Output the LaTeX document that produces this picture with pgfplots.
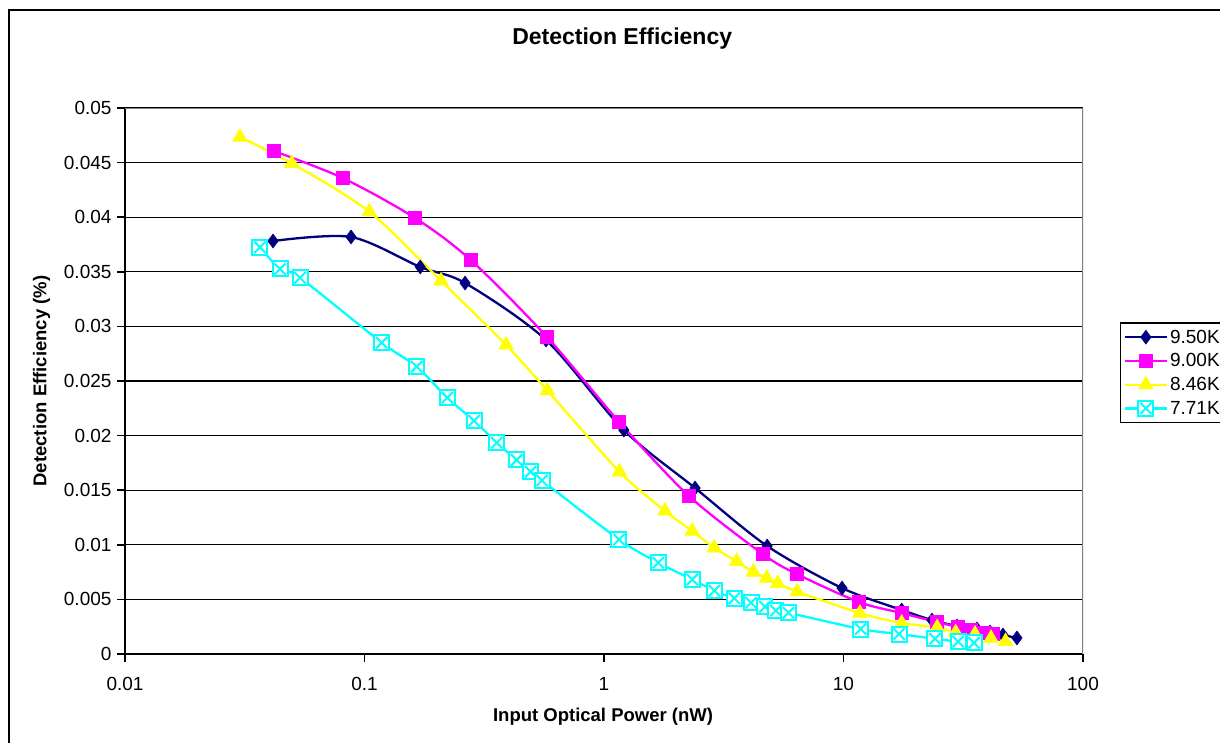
\documentclass[border=0pt]{standalone}
\usepackage{fontspec}
\setmainfont{Liberation Sans}
\usepackage{pgfplots}
\pgfplotsset{compat=1.18}
\definecolor{navy}{RGB}{0,0,128}
\definecolor{mag}{RGB}{255,0,255}
\definecolor{yel}{RGB}{255,255,0}
\definecolor{cyn}{RGB}{0,255,255}
\definecolor{bordergray}{RGB}{128,128,128}
\pgfdeclareplotmark{boxx}{%
  \pgfpathrectangle{\pgfqpoint{-\pgfplotmarksize}{-\pgfplotmarksize}}{\pgfqpoint{2\pgfplotmarksize}{2\pgfplotmarksize}}%
  \pgfusepathqfillstroke
  \pgfpathmoveto{\pgfqpoint{-0.75\pgfplotmarksize}{-0.75\pgfplotmarksize}}%
  \pgfpathlineto{\pgfqpoint{0.75\pgfplotmarksize}{0.75\pgfplotmarksize}}%
  \pgfpathmoveto{\pgfqpoint{-0.75\pgfplotmarksize}{0.75\pgfplotmarksize}}%
  \pgfpathlineto{\pgfqpoint{0.75\pgfplotmarksize}{-0.75\pgfplotmarksize}}%
  \pgfusepathqstroke}
\begin{document}
\begin{tikzpicture}
\useasboundingbox (0pt,0pt) rectangle (1220pt,-742pt);
\draw[black, line width=2pt] (9pt,-10pt) rectangle (1240pt,-760pt);
\begin{axis}[
  at={(125pt,-654pt)}, anchor=south west,
  scale only axis, width=958pt, height=546pt,
  xmode=log, log basis x=10, xmin=0.01, xmax=100, ymin=0, ymax=0.05,
  xtick={0.01,0.1,1,10,100}, xticklabels={0.01,0.1,1,10,100},
  xminorticks=false,
  ytick={0,0.005,0.01,0.015,0.02,0.025,0.03,0.035,0.04,0.045,0.05},
  yticklabels={0,0.005,0.01,0.015,0.02,0.025,0.03,0.035,0.04,0.045,0.05},
  scaled y ticks=false,
  axis x line*=bottom, axis y line*=left,
  axis line style={black, line width=2pt, -},
  tick align=outside, major tick length=8pt,
  tick style={black, line width=1.5pt},
  ymajorgrids, major grid style={black, line width=1.3pt},
  ticklabel style={font=\fontsize{19}{22}\selectfont},
  xticklabel style={yshift=-12pt},
  yticklabel style={xshift=-2pt},
  title={Detection Efficiency},
  title style={at={(axis description cs:0.519,1.1154)}, anchor=center, font=\bfseries\fontsize{23}{26}\selectfont},
  xlabel={Input Optical Power (nW)},
  xlabel style={at={(axis description cs:0.499,-0.1154)}, anchor=center, font=\bfseries\fontsize{18.5}{22}\selectfont},
  ylabel={Detection Efficiency (\%)},
  ylabel style={at={(axis description cs:-0.087,0.5)}, anchor=center, font=\bfseries\fontsize{18.5}{22}\selectfont},
  legend style={at={(axis description cs:1.0386,0.608)}, anchor=north west, draw=black, line width=1.5pt,
     font=\fontsize{19}{22}\selectfont, inner xsep=3pt, inner ysep=5pt, row sep=5pt,
     nodes={inner sep=2pt}},
  legend cell align=left,
  legend image code/.code={\draw[mark repeat=2,mark phase=2] plot coordinates {(0pt,0pt) (21pt,0pt) (42pt,0pt)};},
]
\addplot[navy, line width=2.3pt, smooth, tension=0.5, mark=diamond*, mark size=7pt, mark options={solid, fill=navy, draw=navy, line width=0.5pt}] coordinates {
(0.0415,0.03782) (0.0879,0.03819) (0.171,0.03544) (0.263,0.03397) (0.573,0.02875) (1.21,0.02051) (2.40,0.01520) (4.80,0.00989) (9.86,0.00604) (17.5,0.00403) (23.4,0.00311) (29.8,0.00256) (36.1,0.00229) (40.9,0.00201) (46.3,0.00174) (53.0,0.00147)};
\addlegendentry{9.50K}
\addplot[mag, line width=2.3pt, smooth, tension=0.5, mark=square*, mark size=6.5pt, mark options={solid, fill=mag, draw=mag, line width=0.5pt}] coordinates {
(0.0418,0.04606) (0.0811,0.04359) (0.1625,0.03993) (0.2776,0.03608) (0.5765,0.02906) (1.155,0.02127) (2.264,0.01447) (4.60,0.00916) (6.38,0.00733) (11.6,0.00476) (17.5,0.00375) (24.5,0.00293) (30.1,0.00247) (34.1,0.00220) (38.5,0.00195) (42.1,0.00183)};
\addlegendentry{9.00K}
\addplot[yel, line width=2.3pt, smooth, tension=0.5, mark=triangle*, mark size=8.5pt, mark options={solid, fill=yel, draw=yel, line width=0.5pt}] coordinates {
(0.0302,0.04734) (0.0497,0.04493) (0.1047,0.04050) (0.2086,0.03418) (0.390,0.02830) (0.580,0.02413) (1.161,0.01669) (1.798,0.01310) (2.337,0.01126) (2.89,0.00971) (3.58,0.00849) (4.20,0.00751) (4.78,0.00696) (5.31,0.00647) (6.41,0.00571) (11.7,0.00375) (17.5,0.00284) (24.6,0.00243) (29.4,0.00197) (35.4,0.00183) (41.3,0.00145) (47.5,0.00116)};
\addlegendentry{8.46K}
\addplot[cyn, line width=2.3pt, smooth, tension=0.5, mark=boxx, mark size=7.5pt, mark options={solid, fill=white, draw=cyn, line width=2pt}] coordinates {
(0.0366,0.03724) (0.0444,0.03526) (0.0538,0.03446) (0.1180,0.02851) (0.1652,0.02631) (0.2217,0.02347) (0.2866,0.02136) (0.3565,0.01935) (0.432,0.01777) (0.494,0.01669) (0.551,0.01589) (1.155,0.01049) (1.685,0.00836) (2.338,0.00682) (2.89,0.00580) (3.50,0.00510) (4.11,0.00470) (4.70,0.00433) (5.22,0.00398) (5.89,0.00378) (11.80,0.00229) (17.06,0.00183) (24.1,0.00140) (30.1,0.00113) (35.1,0.00103)};
\addlegendentry{7.71K}
\draw[bordergray, line width=2pt] (rel axis cs:0,1) -- (rel axis cs:1,1) -- (rel axis cs:1,0);
\end{axis}
\end{tikzpicture}
\end{document}
